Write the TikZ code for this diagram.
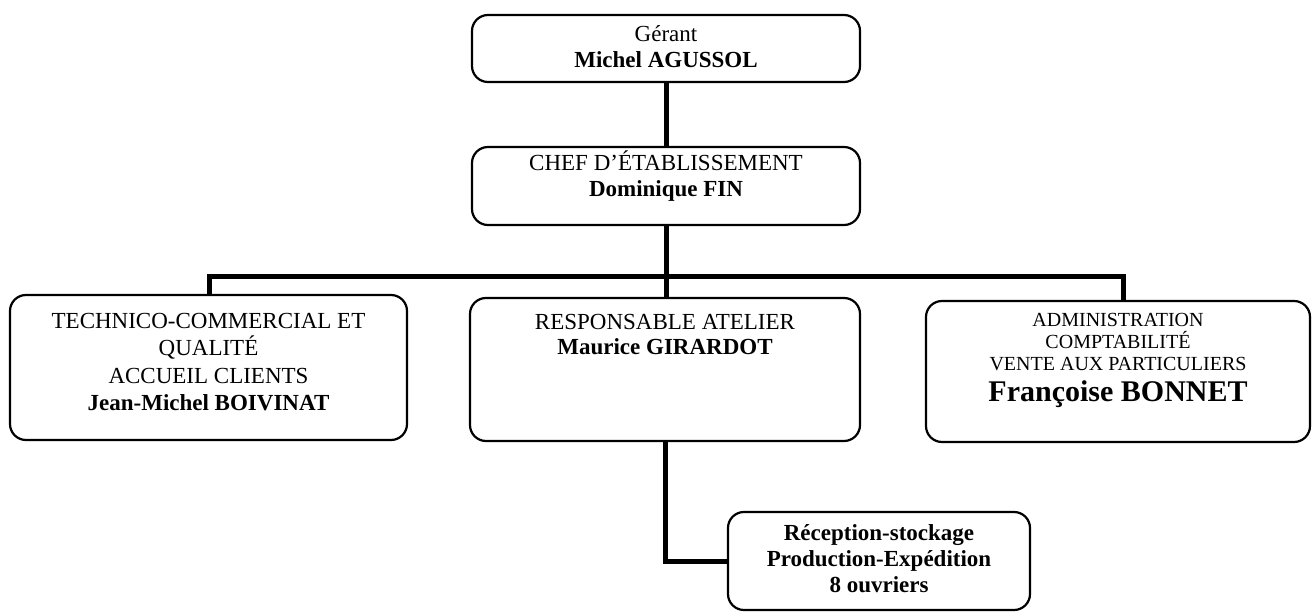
\documentclass[tikz,border=0pt]{standalone}
\usepackage{fontspec}
\setmainfont{Liberation Serif}
\begin{document}
\begin{tikzpicture}[x=1pt,y=-1pt,
  orgbox/.style={draw,line width=2.2pt,rounded corners=16pt,inner sep=0pt},
  link/.style={line width=5pt},
  txt/.style={align=center,inner sep=0pt,anchor=north}]
\useasboundingbox[fill=white] (0,0) rectangle (1312,612);
% boxes
\node[orgbox,minimum width=388,minimum height=67] (gerant) at (666,48.5) {};
\node[orgbox,minimum width=388,minimum height=78] (chef) at (666,186) {};
\node[orgbox,minimum width=397,minimum height=145] (left) at (208.5,367.5) {};
\node[orgbox,minimum width=390,minimum height=143] (mid) at (665,369.5) {};
\node[orgbox,minimum width=384,minimum height=141] (right) at (1118,371.5) {};
\node[orgbox,minimum width=302,minimum height=98] (low) at (879,561) {};
% texts
\node[txt,font=\fontsize{23}{26}\selectfont] (tg) at (666,25) {Gérant\\\textbf{Michel AGUSSOL}};
\node[txt,font=\fontsize{23}{26}\selectfont] (tc) at (666,151) {CHEF D’ÉTABLISSEMENT\\\textbf{Dominique FIN}};
\node[txt,font=\fontsize{23}{27.5}\selectfont] (tl) at (208.5,313) {TECHNICO-COMMERCIAL ET\\QUALITÉ\\ACCUEIL CLIENTS\\\textbf{Jean-Michel BOIVINAT}};
\node[txt,font=\fontsize{23}{25.5}\selectfont] (tm) at (665,314) {RESPONSABLE ATELIER\\\textbf{Maurice GIRARDOT}};
\node[txt,font=\fontsize{20}{22}\selectfont] (tr) at (1118,313) {ADMINISTRATION\\COMPTABILITÉ\\VENTE AUX PARTICULIERS\\[9pt]{\fontsize{30}{30}\selectfont\bfseries Françoise BONNET}};
\node[txt,font=\fontsize{23}{26}\selectfont\bfseries] (tlow) at (879,524) {Réception-stockage\\Production-Expédition\\8 ouvriers};
% connectors
\coordinate (barL) at (209,277);
\coordinate (barR) at (1123,277);
\draw[link] (gerant.south) -- (chef.north);
\draw[link] (chef.south) -- (chef.south |- mid.north);
\draw[link] (barL |- left.north) -- (barL) -- (barR) -- (barR |- right.north);
\draw[link] (mid.south) -- (mid.south |- low.west) -- (low.west);
\end{tikzpicture}
\end{document}
